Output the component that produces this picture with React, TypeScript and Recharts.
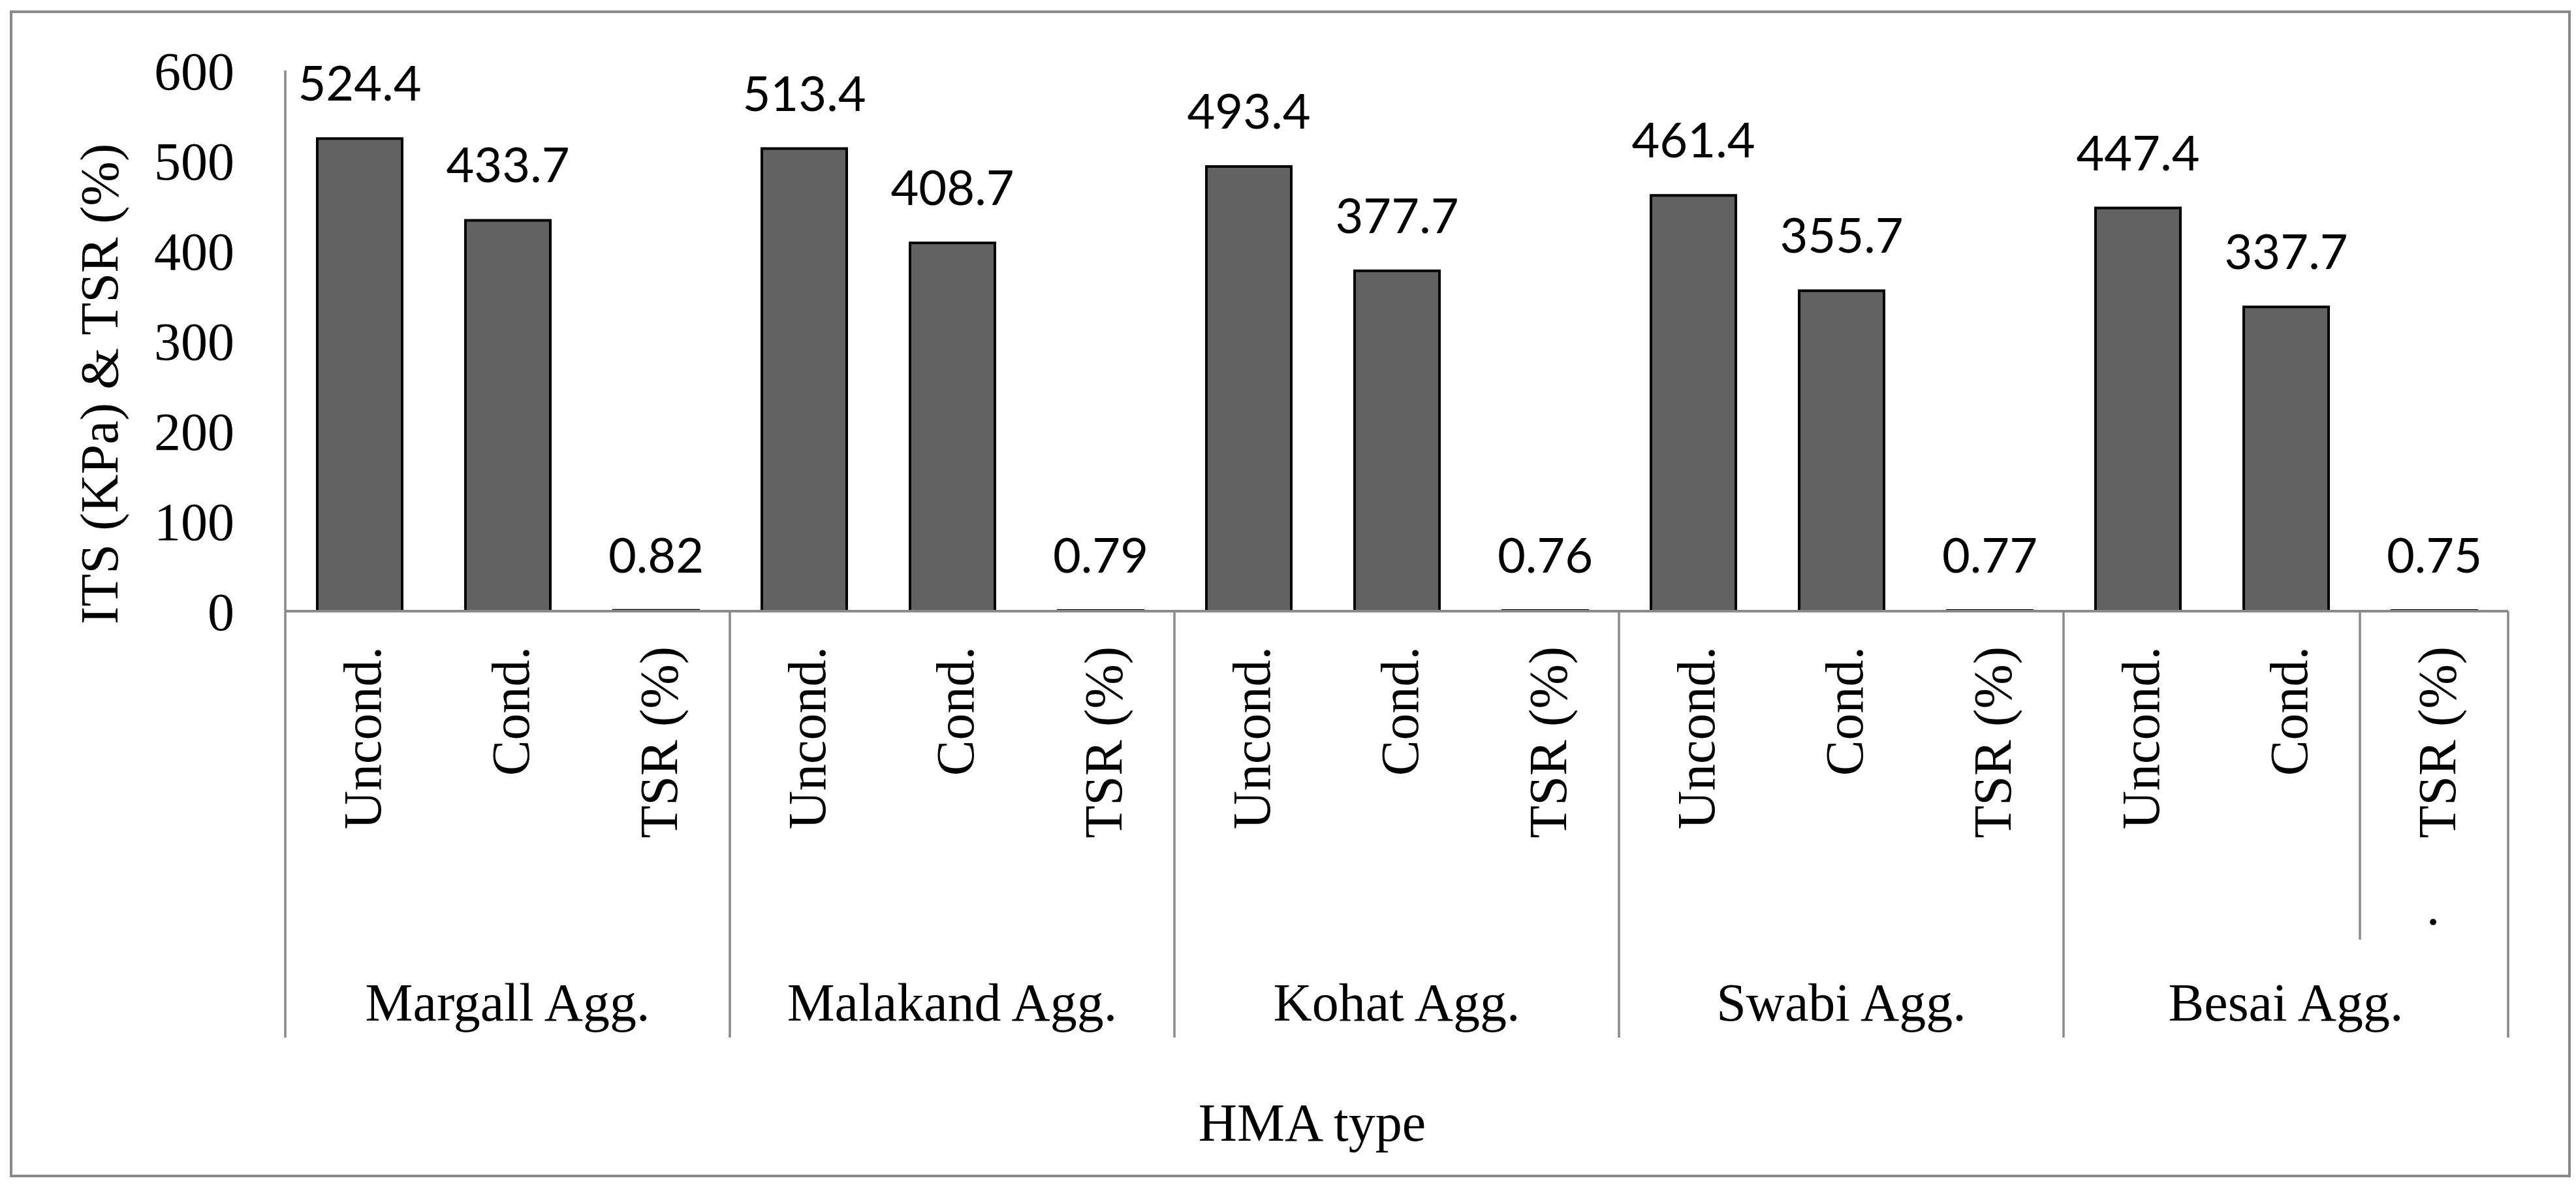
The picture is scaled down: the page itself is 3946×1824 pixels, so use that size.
import React from 'react';
import { BarChart, Bar, XAxis, YAxis, LabelList, Label } from 'recharts';

const groups = ['Margall Agg.', 'Malakand Agg.', 'Kohat Agg.', 'Swabi Agg.', 'Besai Agg.'];
const subLabels = ['Uncond.', 'Cond.', 'TSR (%)'];
const uncondValues = [524.4, 513.4, 493.4, 461.4, 447.4];
const condValues = [433.7, 408.7, 377.7, 355.7, 337.7];
const tsrValues = [0.82, 0.79, 0.76, 0.77, 0.75];
// stray text Excel left under the TSR label of each group
const tsrNotes = ['', '', '', '', '.'];
const yTicks = [0, 100, 200, 300, 400, 500, 600];

const rows = groups.flatMap((g, gi) =>
  [uncondValues[gi], condValues[gi], tsrValues[gi]].map((v, si) => ({
    key: `${g}|${subLabels[si]}`,
    group: g,
    sub: subLabels[si],
    note: si === 2 ? tsrNotes[gi] : '',
    value: v,
  }))
);

const GRID = '#898989';
const SERIF = '"Liberation Serif", "Times New Roman", serif';

const CategoryTick = (props: any) => {
  const { x, y, payload } = props;
  const index: number = payload.index ?? props.index;
  const row = rows[index];
  const half: number = payload.offset ?? 113;
  const pos = index % 3;
  return (
    <g>
      <text
        transform={`translate(${x},${y + 54}) rotate(-90)`}
        textAnchor="end"
        dy={32}
        fontFamily={SERIF}
        fontSize={82}
        fill="#000"
      >
        {row.sub}
      </text>
      {row.note && (
        <>
          <text
            transform={`translate(${x + 2},${y + 476}) rotate(-90)`}
            textAnchor="middle"
            fontFamily={SERIF}
            fontSize={82}
            fill="#000"
          >
            {row.note}
          </text>
          <line x1={x - half} x2={x - half} y1={y} y2={y + 503} stroke={GRID} strokeWidth={3.5} />
        </>
      )}
      {pos === 1 && (
        <text x={x} y={y + 627} textAnchor="middle" fontFamily={SERIF} fontSize={82} fill="#000">
          {row.group}
        </text>
      )}
      {pos === 0 && (
        <line x1={x - half} x2={x - half} y1={y} y2={y + 653} stroke={GRID} strokeWidth={3.5} />
      )}
      {index === rows.length - 1 && (
        <line x1={x + half} x2={x + half} y1={y} y2={y + 653} stroke={GRID} strokeWidth={3.5} />
      )}
    </g>
  );
};

const App: React.FC = () => {
  return (
    <div style={{ position: 'absolute', left: 0, top: 0, width: 3946, height: 1824, background: '#fff' }}>
      <div
        style={{
          position: 'absolute',
          left: 15,
          top: 16,
          width: 3923,
          height: 1787,
          border: `4px solid ${GRID}`,
          boxSizing: 'border-box',
        }}
      />
      <div style={{ position: 'absolute', left: 0, top: 0 }}>
        <BarChart
          width={3946}
          height={1824}
          data={rows}
          margin={{ top: 108, right: 104, left: 0, bottom: 228 }}
        >
          <XAxis
            dataKey="key"
            interval={0}
            height={660}
            tickLine={false}
            tickSize={0}
            tickMargin={0}
            axisLine={{ stroke: GRID, strokeWidth: 4 }}
            tick={<CategoryTick />}
          >
            <Label
              content={() => (
                <text x={2010} y={1747} textAnchor="middle" fontFamily={SERIF} fontSize={82} fill="#000">
                  HMA type
                </text>
              )}
            />
          </XAxis>
          <YAxis
            domain={[0, 600]}
            ticks={yTicks}
            width={437}
            tickLine={false}
            tickSize={0}
            tickMargin={78}
            axisLine={{ stroke: GRID, strokeWidth: 3.5 }}
            tick={{ fontFamily: SERIF, fontSize: 82, fill: '#000' }}
          >
            <Label
              content={() => (
                <text
                  transform="translate(180,588) rotate(-90)"
                  textAnchor="middle"
                  fontFamily={SERIF}
                  fontSize={82}
                  fill="#000"
                >
                  ITS (KPa) &amp; TSR (%)
                </text>
              )}
            />
          </YAxis>
          <Bar dataKey="value" barSize={130} fill="#626262" stroke="#000" strokeWidth={4} isAnimationActive={false}>
            <LabelList
              dataKey="value"
              position="top"
              offset={58}
              fill="#000"
              fontFamily='Lato, "Open Sans", sans-serif'
              fontSize={74}
            />
          </Bar>
        </BarChart>
      </div>
    </div>
  );
};

export default App;
